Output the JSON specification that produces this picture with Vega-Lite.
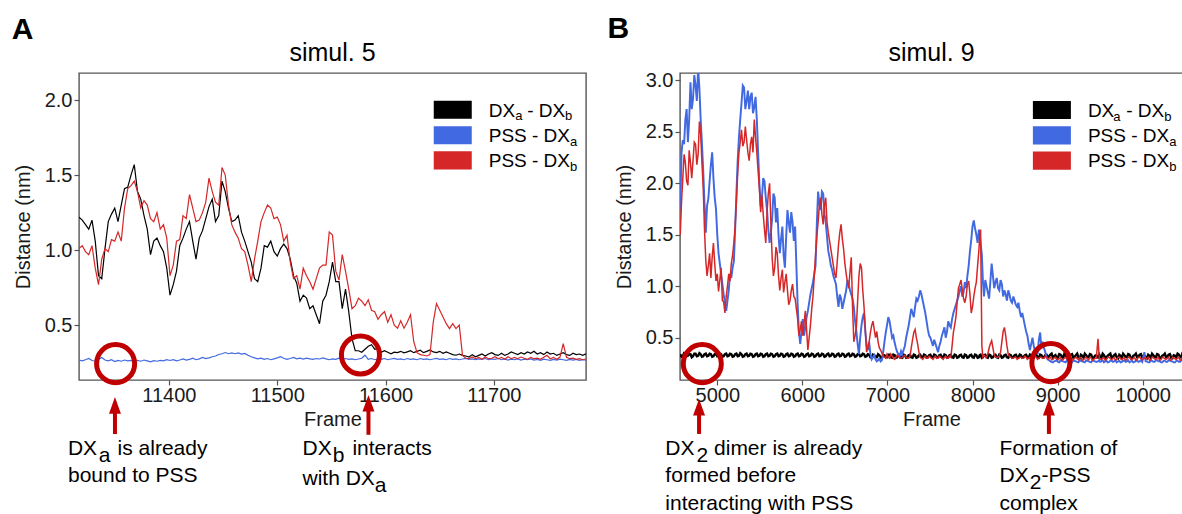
{
"$schema":"https://vega.github.io/schema/vega-lite/v6.json",
"padding":{"left":11,"top":13,"right":0,"bottom":0},
"bounds":"flush",
"spacing":94,
"config":{
 "font":"Liberation Sans",
 "view":{"stroke":"#555555","strokeWidth":1.4},
 "axis":{"grid":false,"domain":false,"tickColor":"#555555","tickSize":5,"tickWidth":1.2,"labelFontSize":20,"titleFontSize":20,"titleFontWeight":"normal","labelColor":"#1a1a1a","titleColor":"#1a1a1a","labelPadding":0},
 "axisX":{"titlePadding":4},
 "axisY":{"minExtent":36,"maxExtent":36,"titlePadding":10,"labelPadding":2}
},
"resolve":{"scale":{"x":"independent","y":"independent","color":"independent"}},
"datasets":{
"A":[
{"f":11317,"k":1.22,"p":0.268,"r":1.01},{"f":11320,"k":1.20,"p":0.262,"r":1.03},{"f":11323,"k":1.17,"p":0.27,"r":0.99},{"f":11326,"k":1.14,"p":0.278,"r":0.97},{"f":11329,"k":1.20,"p":0.265,"r":1.03},{"f":11332,"k":1.06,"p":0.26,"r":0.88},{"f":11335,"k":0.83,"p":0.272,"r":0.77},{"f":11338,"k":0.81,"p":0.285,"r":0.94},{"f":11341,"k":1.01,"p":0.268,"r":1.01},{"f":11344,"k":1.19,"p":0.262,"r":0.99},
{"f":11347,"k":1.24,"p":0.27,"r":1.07},{"f":11350,"k":1.28,"p":0.258,"r":1.06},{"f":11353,"k":1.19,"p":0.266,"r":1.12},{"f":11356,"k":1.30,"p":0.26,"r":1.06},{"f":11359,"k":1.41,"p":0.268,"r":1.28},{"f":11362,"k":1.42,"p":0.262,"r":1.41},{"f":11365,"k":1.50,"p":0.266,"r":1.43},{"f":11368,"k":1.57,"p":0.258,"r":1.46},{"f":11371,"k":1.39,"p":0.265,"r":1.39},{"f":11374,"k":1.34,"p":0.26,"r":1.28},
{"f":11377,"k":1.23,"p":0.268,"r":1.33},{"f":11380,"k":1.14,"p":0.262,"r":1.30},{"f":11383,"k":0.97,"p":0.256,"r":1.21},{"f":11386,"k":1.06,"p":0.264,"r":1.19},{"f":11389,"k":1.08,"p":0.26,"r":1.25},{"f":11392,"k":1.03,"p":0.266,"r":1.14},{"f":11395,"k":0.99,"p":0.262,"r":1.17},{"f":11398,"k":0.88,"p":0.27,"r":1.08},{"f":11401,"k":0.70,"p":0.265,"r":0.83},{"f":11404,"k":0.77,"p":0.27,"r":0.90},
{"f":11407,"k":0.86,"p":0.262,"r":1.06},{"f":11410,"k":1.03,"p":0.268,"r":1.07},{"f":11413,"k":1.08,"p":0.275,"r":1.23},{"f":11416,"k":1.14,"p":0.268,"r":1.21},{"f":11419,"k":1.19,"p":0.272,"r":1.37},{"f":11422,"k":1.06,"p":0.28,"r":1.28},{"f":11425,"k":0.94,"p":0.27,"r":1.19},{"f":11428,"k":1.08,"p":0.276,"r":1.20},{"f":11431,"k":1.13,"p":0.285,"r":1.25},{"f":11434,"k":1.21,"p":0.278,"r":1.32},
{"f":11437,"k":1.29,"p":0.282,"r":1.48},{"f":11440,"k":1.34,"p":0.29,"r":1.39},{"f":11443,"k":1.19,"p":0.295,"r":1.32},{"f":11446,"k":1.23,"p":0.305,"r":1.30},{"f":11449,"k":1.46,"p":0.31,"r":1.55},{"f":11452,"k":1.39,"p":0.318,"r":1.50},{"f":11455,"k":1.28,"p":0.31,"r":1.30},{"f":11458,"k":1.19,"p":0.315,"r":1.17},{"f":11461,"k":1.20,"p":0.31,"r":1.12},{"f":11464,"k":1.23,"p":0.316,"r":1.08},
{"f":11467,"k":1.12,"p":0.308,"r":1.01},{"f":11470,"k":1.06,"p":0.312,"r":0.99},{"f":11473,"k":0.99,"p":0.30,"r":0.90},{"f":11476,"k":0.92,"p":0.29,"r":0.79},{"f":11479,"k":0.81,"p":0.282,"r":0.94},{"f":11482,"k":0.79,"p":0.276,"r":1.06},{"f":11485,"k":0.88,"p":0.28,"r":1.19},{"f":11488,"k":1.03,"p":0.272,"r":1.25},{"f":11491,"k":1.02,"p":0.278,"r":1.30},{"f":11494,"k":1.06,"p":0.27,"r":1.28},
{"f":11497,"k":0.99,"p":0.276,"r":1.21},{"f":11500,"k":0.96,"p":0.282,"r":1.22},{"f":11503,"k":1.01,"p":0.29,"r":1.17},{"f":11506,"k":1.04,"p":0.28,"r":1.06},{"f":11509,"k":1.01,"p":0.272,"r":1.10},{"f":11512,"k":0.94,"p":0.278,"r":0.92},{"f":11515,"k":0.83,"p":0.286,"r":0.81},{"f":11518,"k":0.78,"p":0.276,"r":0.83},{"f":11521,"k":0.66,"p":0.28,"r":0.74},{"f":11524,"k":0.70,"p":0.274,"r":0.88},
{"f":11527,"k":0.68,"p":0.28,"r":0.83},{"f":11530,"k":0.61,"p":0.276,"r":0.79},{"f":11533,"k":0.63,"p":0.272,"r":0.74},{"f":11536,"k":0.57,"p":0.278,"r":0.81},{"f":11539,"k":0.51,"p":0.275,"r":0.88},{"f":11542,"k":0.66,"p":0.282,"r":0.90},{"f":11545,"k":0.70,"p":0.276,"r":0.90},{"f":11548,"k":0.79,"p":0.27,"r":1.12},{"f":11551,"k":0.92,"p":0.276,"r":1.10},{"f":11554,"k":0.79,"p":0.272,"r":0.86},
{"f":11557,"k":0.79,"p":0.28,"r":0.80},{"f":11560,"k":0.61,"p":0.274,"r":0.97},{"f":11563,"k":0.74,"p":0.278,"r":0.86},{"f":11566,"k":0.59,"p":0.272,"r":0.74},{"f":11569,"k":0.41,"p":0.276,"r":0.61},{"f":11572,"k":0.33,"p":0.27,"r":0.63},{"f":11575,"k":0.33,"p":0.275,"r":0.68},{"f":11578,"k":0.32,"p":0.28,"r":0.66},{"f":11581,"k":0.34,"p":0.30,"r":0.63},{"f":11584,"k":0.36,"p":0.272,"r":0.67},
{"f":11587,"k":0.37,"p":0.278,"r":0.60},{"f":11590,"k":0.34,"p":0.27,"r":0.59},{"f":11593,"k":0.345,"p":0.276,"r":0.54},{"f":11596,"k":0.32,"p":0.272,"r":0.57},{"f":11599,"k":0.33,"p":0.278,"r":0.59},{"f":11602,"k":0.32,"p":0.27,"r":0.52},{"f":11605,"k":0.31,"p":0.275,"r":0.57},{"f":11608,"k":0.32,"p":0.279,"r":0.50},{"f":11611,"k":0.317,"p":0.272,"r":0.48},{"f":11614,"k":0.326,"p":0.276,"r":0.53},
{"f":11617,"k":0.316,"p":0.27,"r":0.48},{"f":11620,"k":0.322,"p":0.278,"r":0.52},{"f":11623,"k":0.33,"p":0.272,"r":0.57},{"f":11626,"k":0.317,"p":0.276,"r":0.39},{"f":11629,"k":0.326,"p":0.27,"r":0.317},{"f":11632,"k":0.333,"p":0.278,"r":0.304},{"f":11635,"k":0.317,"p":0.272,"r":0.30},{"f":11638,"k":0.326,"p":0.276,"r":0.295},{"f":11641,"k":0.335,"p":0.27,"r":0.304},{"f":11644,"k":0.322,"p":0.275,"r":0.52},
{"f":11647,"k":0.317,"p":0.279,"r":0.644},{"f":11650,"k":0.326,"p":0.272,"r":0.60},{"f":11653,"k":0.313,"p":0.276,"r":0.555},{"f":11656,"k":0.322,"p":0.27,"r":0.51},{"f":11659,"k":0.313,"p":0.278,"r":0.477},{"f":11662,"k":0.304,"p":0.272,"r":0.51},{"f":11665,"k":0.30,"p":0.276,"r":0.477},{"f":11668,"k":0.308,"p":0.27,"r":0.50},{"f":11671,"k":0.299,"p":0.275,"r":0.299},{"f":11674,"k":0.295,"p":0.279,"r":0.28},
{"f":11677,"k":0.288,"p":0.272,"r":0.277},{"f":11680,"k":0.304,"p":0.276,"r":0.288},{"f":11683,"k":0.29,"p":0.27,"r":0.277},{"f":11686,"k":0.299,"p":0.275,"r":0.286},{"f":11689,"k":0.308,"p":0.272,"r":0.273},{"f":11692,"k":0.295,"p":0.278,"r":0.288},{"f":11695,"k":0.308,"p":0.27,"r":0.277},{"f":11698,"k":0.317,"p":0.276,"r":0.28},{"f":11701,"k":0.304,"p":0.272,"r":0.29},{"f":11704,"k":0.299,"p":0.278,"r":0.277},
{"f":11707,"k":0.313,"p":0.27,"r":0.286},{"f":11710,"k":0.299,"p":0.275,"r":0.273},{"f":11713,"k":0.308,"p":0.268,"r":0.29},{"f":11716,"k":0.322,"p":0.274,"r":0.277},{"f":11719,"k":0.313,"p":0.27,"r":0.286},{"f":11722,"k":0.304,"p":0.276,"r":0.277},{"f":11725,"k":0.317,"p":0.268,"r":0.288},{"f":11728,"k":0.308,"p":0.274,"r":0.28},{"f":11731,"k":0.322,"p":0.27,"r":0.273},{"f":11734,"k":0.313,"p":0.276,"r":0.286},
{"f":11737,"k":0.326,"p":0.268,"r":0.277},{"f":11740,"k":0.308,"p":0.272,"r":0.28},{"f":11743,"k":0.317,"p":0.266,"r":0.273},{"f":11746,"k":0.304,"p":0.274,"r":0.286},{"f":11749,"k":0.322,"p":0.27,"r":0.299},{"f":11752,"k":0.308,"p":0.266,"r":0.277},{"f":11755,"k":0.313,"p":0.272,"r":0.286},{"f":11758,"k":0.299,"p":0.268,"r":0.273},{"f":11761,"k":0.308,"p":0.274,"r":0.288},{"f":11764,"k":0.317,"p":0.27,"r":0.377},
{"f":11767,"k":0.304,"p":0.266,"r":0.286},{"f":11770,"k":0.299,"p":0.272,"r":0.277},{"f":11773,"k":0.313,"p":0.268,"r":0.28},{"f":11776,"k":0.304,"p":0.272,"r":0.273},{"f":11779,"k":0.308,"p":0.266,"r":0.277},{"f":11782,"k":0.299,"p":0.27,"r":0.27},{"f":11785,"k":0.31,"p":0.268,"r":0.275}
],
"B":[
{"f":4565,"k":0.34,"p":1.75,"r":1.50},{"f":4595,"k":0.32,"p":2.42,"r":2.05},{"f":4625,"k":0.345,"p":2.62,"r":2.20},{"f":4655,"k":0.325,"p":2.40,"r":1.98},{"f":4685,"k":0.34,"p":2.98,"r":2.20},{"f":4715,"k":0.32,"p":2.82,"r":2.22},{"f":4745,"k":0.345,"p":2.95,"r":2.38},{"f":4775,"k":0.325,"p":3.12,"r":2.28},{"f":4805,"k":0.34,"p":2.62,"r":2.48},{"f":4835,"k":0.32,"p":2.12,"r":1.95},
{"f":4865,"k":0.345,"p":1.52,"r":1.25},{"f":4895,"k":0.325,"p":1.85,"r":1.20},{"f":4925,"k":0.34,"p":2.18,"r":1.08},{"f":4955,"k":0.32,"p":2.05,"r":1.42},{"f":4985,"k":0.345,"p":1.75,"r":1.05},{"f":5015,"k":0.325,"p":1.32,"r":0.95},{"f":5045,"k":0.34,"p":1.12,"r":1.18},{"f":5075,"k":0.32,"p":0.92,"r":0.85},{"f":5105,"k":0.345,"p":0.76,"r":0.90},{"f":5135,"k":0.325,"p":0.96,"r":1.12},
{"f":5165,"k":0.34,"p":1.08,"r":1.22},{"f":5195,"k":0.32,"p":1.24,"r":1.42},{"f":5225,"k":0.345,"p":1.90,"r":1.82},{"f":5255,"k":0.325,"p":2.45,"r":2.30},{"f":5285,"k":0.34,"p":2.78,"r":2.52},{"f":5315,"k":0.32,"p":2.93,"r":2.40},{"f":5345,"k":0.345,"p":2.80,"r":2.42},{"f":5375,"k":0.325,"p":2.72,"r":2.22},{"f":5405,"k":0.34,"p":2.88,"r":2.45},{"f":5435,"k":0.32,"p":2.74,"r":2.62},
{"f":5465,"k":0.345,"p":2.62,"r":2.30},{"f":5495,"k":0.325,"p":2.00,"r":1.95},{"f":5525,"k":0.34,"p":1.86,"r":1.88},{"f":5555,"k":0.32,"p":2.02,"r":1.55},{"f":5585,"k":0.345,"p":1.74,"r":1.72},{"f":5615,"k":0.325,"p":1.42,"r":2.00},{"f":5645,"k":0.34,"p":1.66,"r":1.28},{"f":5675,"k":0.32,"p":1.86,"r":1.18},{"f":5705,"k":0.345,"p":1.76,"r":1.32},{"f":5735,"k":0.325,"p":1.32,"r":0.96},
{"f":5765,"k":0.34,"p":1.58,"r":1.16},{"f":5795,"k":0.32,"p":1.18,"r":1.04},{"f":5825,"k":0.345,"p":1.74,"r":0.96},{"f":5855,"k":0.325,"p":1.52,"r":0.86},{"f":5885,"k":0.34,"p":1.62,"r":1.02},{"f":5915,"k":0.32,"p":1.58,"r":0.88},{"f":5945,"k":0.345,"p":0.82,"r":0.68},{"f":5975,"k":0.325,"p":0.44,"r":0.58},{"f":6005,"k":0.34,"p":0.68,"r":0.52},{"f":6035,"k":0.32,"p":0.60,"r":0.76},
{"f":6065,"k":0.345,"p":0.76,"r":0.38},{"f":6095,"k":0.325,"p":0.92,"r":0.62},{"f":6125,"k":0.34,"p":1.04,"r":0.90},{"f":6155,"k":0.32,"p":1.20,"r":1.30},{"f":6185,"k":0.345,"p":1.92,"r":1.62},{"f":6215,"k":0.325,"p":1.74,"r":1.86},{"f":6245,"k":0.34,"p":1.90,"r":1.60},{"f":6275,"k":0.32,"p":1.62,"r":1.86},{"f":6305,"k":0.345,"p":1.34,"r":1.52},{"f":6335,"k":0.325,"p":1.20,"r":1.36},
{"f":6365,"k":0.34,"p":1.10,"r":1.20},{"f":6395,"k":0.32,"p":1.02,"r":1.08},{"f":6425,"k":0.345,"p":0.80,"r":1.40},{"f":6455,"k":0.325,"p":0.88,"r":1.60},{"f":6485,"k":0.34,"p":0.84,"r":1.36},{"f":6515,"k":0.32,"p":0.96,"r":1.12},{"f":6545,"k":0.345,"p":1.02,"r":0.98},{"f":6575,"k":0.325,"p":0.92,"r":1.28},{"f":6605,"k":0.34,"p":0.80,"r":0.46},{"f":6635,"k":0.32,"p":0.56,"r":0.60},
{"f":6665,"k":0.345,"p":0.34,"r":1.10},{"f":6695,"k":0.325,"p":0.62,"r":1.18},{"f":6725,"k":0.34,"p":0.74,"r":0.80},{"f":6755,"k":0.32,"p":0.42,"r":0.36},{"f":6785,"k":0.335,"p":0.46,"r":0.46},{"f":6815,"k":0.305,"p":0.29,"r":0.62},{"f":6845,"k":0.33,"p":0.33,"r":0.58},{"f":6875,"k":0.31,"p":0.27,"r":0.56},{"f":6905,"k":0.33,"p":0.30,"r":0.40},{"f":6935,"k":0.305,"p":0.28,"r":0.35},
{"f":6965,"k":0.33,"p":0.46,"r":0.31},{"f":6995,"k":0.31,"p":0.62,"r":0.34},{"f":7025,"k":0.335,"p":0.66,"r":0.30},{"f":7055,"k":0.305,"p":0.50,"r":0.32},{"f":7085,"k":0.33,"p":0.45,"r":0.29},{"f":7115,"k":0.31,"p":0.36,"r":0.33},{"f":7145,"k":0.335,"p":0.32,"r":0.30},{"f":7175,"k":0.305,"p":0.34,"r":0.31},{"f":7205,"k":0.33,"p":0.42,"r":0.33},{"f":7235,"k":0.31,"p":0.56,"r":0.30},
{"f":7265,"k":0.335,"p":0.70,"r":0.32},{"f":7295,"k":0.305,"p":0.74,"r":0.48},{"f":7325,"k":0.33,"p":0.80,"r":0.58},{"f":7355,"k":0.31,"p":0.86,"r":0.44},{"f":7385,"k":0.335,"p":0.96,"r":0.31},{"f":7415,"k":0.305,"p":0.86,"r":0.29},{"f":7445,"k":0.33,"p":0.74,"r":0.32},{"f":7475,"k":0.31,"p":0.58,"r":0.30},{"f":7505,"k":0.335,"p":0.50,"r":0.31},{"f":7535,"k":0.305,"p":0.42,"r":0.29},
{"f":7565,"k":0.33,"p":0.44,"r":0.32},{"f":7595,"k":0.31,"p":0.36,"r":0.30},{"f":7625,"k":0.335,"p":0.46,"r":0.31},{"f":7655,"k":0.305,"p":0.56,"r":0.29},{"f":7685,"k":0.33,"p":0.50,"r":0.32},{"f":7715,"k":0.31,"p":0.66,"r":0.30},{"f":7745,"k":0.335,"p":0.60,"r":0.31},{"f":7775,"k":0.305,"p":0.74,"r":0.55},{"f":7805,"k":0.33,"p":0.82,"r":0.70},{"f":7835,"k":0.31,"p":0.90,"r":0.98},
{"f":7865,"k":0.335,"p":1.00,"r":1.06},{"f":7895,"k":0.305,"p":0.94,"r":0.88},{"f":7925,"k":0.33,"p":0.98,"r":0.90},{"f":7955,"k":0.31,"p":1.20,"r":1.05},{"f":7985,"k":0.335,"p":1.45,"r":0.74},{"f":8015,"k":0.305,"p":1.64,"r":0.90},{"f":8045,"k":0.33,"p":1.50,"r":1.04},{"f":8075,"k":0.31,"p":1.55,"r":1.35},{"f":8095,"k":0.335,"p":1.42,"r":1.55},{"f":8110,"k":0.305,"p":1.30,"r":0.42},
{"f":8135,"k":0.33,"p":0.90,"r":0.33},{"f":8165,"k":0.31,"p":1.00,"r":0.31},{"f":8195,"k":0.335,"p":0.88,"r":0.40},{"f":8225,"k":0.305,"p":1.22,"r":0.47},{"f":8255,"k":0.33,"p":0.98,"r":0.33},{"f":8285,"k":0.31,"p":1.08,"r":0.31},{"f":8315,"k":0.335,"p":0.96,"r":0.32},{"f":8345,"k":0.305,"p":1.02,"r":0.46},{"f":8375,"k":0.33,"p":0.96,"r":0.60},{"f":8405,"k":0.31,"p":0.86,"r":0.42},
{"f":8435,"k":0.335,"p":0.92,"r":0.32},{"f":8465,"k":0.305,"p":0.84,"r":0.30},{"f":8495,"k":0.33,"p":0.86,"r":0.31},{"f":8525,"k":0.31,"p":0.80,"r":0.29},{"f":8555,"k":0.335,"p":0.76,"r":0.31},{"f":8585,"k":0.305,"p":0.74,"r":0.30},{"f":8615,"k":0.33,"p":0.62,"r":0.32},{"f":8645,"k":0.31,"p":0.52,"r":0.29},{"f":8675,"k":0.335,"p":0.38,"r":0.31},{"f":8705,"k":0.305,"p":0.50,"r":0.30},
{"f":8735,"k":0.33,"p":0.36,"r":0.32},{"f":8765,"k":0.31,"p":0.34,"r":0.29},{"f":8795,"k":0.335,"p":0.55,"r":0.31},{"f":8825,"k":0.305,"p":0.46,"r":0.30},{"f":8855,"k":0.33,"p":0.36,"r":0.32},{"f":8885,"k":0.31,"p":0.29,"r":0.29},{"f":8915,"k":0.335,"p":0.27,"r":0.31},{"f":8945,"k":0.305,"p":0.26,"r":0.29},{"f":8975,"k":0.33,"p":0.275,"r":0.31},{"f":9005,"k":0.31,"p":0.265,"r":0.285},
{"f":9035,"k":0.335,"p":0.28,"r":0.305},{"f":9065,"k":0.305,"p":0.27,"r":0.29},{"f":9095,"k":0.33,"p":0.26,"r":0.31},{"f":9125,"k":0.31,"p":0.275,"r":0.285},{"f":9155,"k":0.335,"p":0.265,"r":0.305},{"f":9185,"k":0.305,"p":0.28,"r":0.29},{"f":9215,"k":0.33,"p":0.27,"r":0.31},{"f":9245,"k":0.31,"p":0.26,"r":0.285},{"f":9275,"k":0.335,"p":0.275,"r":0.305},{"f":9305,"k":0.305,"p":0.265,"r":0.29},
{"f":9335,"k":0.33,"p":0.28,"r":0.31},{"f":9365,"k":0.31,"p":0.27,"r":0.285},{"f":9395,"k":0.335,"p":0.26,"r":0.305},{"f":9425,"k":0.305,"p":0.275,"r":0.29},{"f":9455,"k":0.33,"p":0.265,"r":0.30},{"f":9475,"k":0.31,"p":0.27,"r":0.49},{"f":9490,"k":0.335,"p":0.28,"r":0.30},{"f":9515,"k":0.305,"p":0.27,"r":0.285},{"f":9545,"k":0.33,"p":0.26,"r":0.305},{"f":9575,"k":0.31,"p":0.275,"r":0.29},
{"f":9605,"k":0.335,"p":0.265,"r":0.31},{"f":9635,"k":0.305,"p":0.28,"r":0.285},{"f":9665,"k":0.33,"p":0.27,"r":0.305},{"f":9695,"k":0.31,"p":0.26,"r":0.29},{"f":9725,"k":0.335,"p":0.275,"r":0.31},{"f":9755,"k":0.305,"p":0.265,"r":0.285},{"f":9785,"k":0.33,"p":0.28,"r":0.305},{"f":9815,"k":0.31,"p":0.27,"r":0.29},{"f":9845,"k":0.335,"p":0.26,"r":0.31},{"f":9875,"k":0.305,"p":0.275,"r":0.285},
{"f":9905,"k":0.33,"p":0.265,"r":0.305},{"f":9935,"k":0.31,"p":0.28,"r":0.29},{"f":9965,"k":0.335,"p":0.27,"r":0.31},{"f":9995,"k":0.305,"p":0.265,"r":0.285},{"f":10020,"k":0.33,"p":0.36,"r":0.305},{"f":10035,"k":0.31,"p":0.27,"r":0.29},{"f":10065,"k":0.335,"p":0.26,"r":0.31},{"f":10095,"k":0.305,"p":0.275,"r":0.285},{"f":10125,"k":0.33,"p":0.265,"r":0.305},{"f":10155,"k":0.31,"p":0.28,"r":0.29},
{"f":10185,"k":0.335,"p":0.27,"r":0.31},{"f":10215,"k":0.305,"p":0.26,"r":0.285},{"f":10245,"k":0.33,"p":0.275,"r":0.305},{"f":10275,"k":0.31,"p":0.265,"r":0.29},{"f":10305,"k":0.335,"p":0.28,"r":0.31},{"f":10335,"k":0.305,"p":0.27,"r":0.285},{"f":10365,"k":0.33,"p":0.26,"r":0.305},{"f":10395,"k":0.31,"p":0.275,"r":0.29},{"f":10425,"k":0.335,"p":0.265,"r":0.31},{"f":10455,"k":0.305,"p":0.28,"r":0.285},
{"f":10475,"k":0.33,"p":0.27,"r":0.30},
{"f":4580,"k":0.315,"p":2.30,"r":1.82},{"f":4610,"k":0.35,"p":2.38,"r":2.28},{"f":4640,"k":0.32,"p":2.72,"r":2.02},{"f":4670,"k":0.34,"p":2.62,"r":2.32},{"f":4700,"k":0.31,"p":2.72,"r":2.05},{"f":4730,"k":0.345,"p":3.05,"r":2.40},{"f":4760,"k":0.32,"p":2.80,"r":2.18},{"f":4790,"k":0.35,"p":2.92,"r":2.60},{"f":4820,"k":0.315,"p":2.38,"r":2.20},{"f":4850,"k":0.34,"p":1.80,"r":1.55},
{"f":4880,"k":0.32,"p":1.78,"r":1.10},{"f":4910,"k":0.345,"p":2.02,"r":1.32},{"f":4940,"k":0.315,"p":2.30,"r":1.28},{"f":4970,"k":0.34,"p":1.86,"r":1.22},{"f":5000,"k":0.32,"p":1.50,"r":1.12},{"f":5030,"k":0.345,"p":1.22,"r":1.06},{"f":5060,"k":0.315,"p":1.02,"r":0.86},{"f":5090,"k":0.34,"p":0.84,"r":0.74},{"f":5120,"k":0.32,"p":0.86,"r":1.00},{"f":5150,"k":0.345,"p":1.12,"r":1.05},
{"f":5180,"k":0.315,"p":1.18,"r":1.30},{"f":5210,"k":0.34,"p":1.55,"r":1.58},{"f":5240,"k":0.32,"p":2.22,"r":2.10},{"f":5270,"k":0.35,"p":2.62,"r":2.40},{"f":5300,"k":0.315,"p":2.95,"r":2.36},{"f":5330,"k":0.34,"p":2.72,"r":2.55},{"f":5360,"k":0.32,"p":2.90,"r":2.30},{"f":5390,"k":0.345,"p":2.84,"r":2.38},{"f":5420,"k":0.315,"p":2.68,"r":2.30},{"f":5450,"k":0.34,"p":2.84,"r":2.45},
{"f":5480,"k":0.32,"p":2.30,"r":2.12},{"f":5510,"k":0.345,"p":1.78,"r":1.72},{"f":5540,"k":0.315,"p":2.05,"r":1.70},{"f":5570,"k":0.34,"p":1.86,"r":1.42},{"f":5600,"k":0.32,"p":1.55,"r":1.90},{"f":5630,"k":0.345,"p":1.52,"r":1.62},{"f":5660,"k":0.315,"p":1.90,"r":1.10},{"f":5690,"k":0.34,"p":1.62,"r":1.38},{"f":5720,"k":0.32,"p":1.50,"r":1.10},{"f":5750,"k":0.345,"p":1.46,"r":1.08},
{"f":5780,"k":0.315,"p":1.30,"r":0.94},{"f":5810,"k":0.34,"p":1.48,"r":1.12},{"f":5840,"k":0.32,"p":1.62,"r":0.82},{"f":5870,"k":0.345,"p":1.72,"r":0.96},{"f":5900,"k":0.315,"p":1.44,"r":0.90},{"f":5930,"k":0.34,"p":1.20,"r":0.78},{"f":5960,"k":0.32,"p":0.55,"r":0.52},{"f":5990,"k":0.345,"p":0.56,"r":0.66},{"f":6020,"k":0.315,"p":0.52,"r":0.64},{"f":6050,"k":0.34,"p":0.70,"r":0.58},
{"f":6080,"k":0.32,"p":0.84,"r":0.50},{"f":6110,"k":0.345,"p":0.98,"r":0.78},{"f":6140,"k":0.315,"p":1.12,"r":1.10},{"f":6170,"k":0.34,"p":1.60,"r":1.48},{"f":6200,"k":0.32,"p":1.80,"r":1.78},{"f":6230,"k":0.345,"p":1.92,"r":1.70},{"f":6260,"k":0.315,"p":1.70,"r":1.78},{"f":6290,"k":0.34,"p":1.48,"r":1.62},{"f":6320,"k":0.32,"p":1.28,"r":1.44},{"f":6350,"k":0.345,"p":1.16,"r":1.28},
{"f":6380,"k":0.315,"p":1.06,"r":1.12},{"f":6410,"k":0.34,"p":0.90,"r":1.24},{"f":6440,"k":0.32,"p":0.92,"r":1.52},{"f":6470,"k":0.345,"p":0.78,"r":1.46},{"f":6500,"k":0.315,"p":0.90,"r":1.22},{"f":6530,"k":0.34,"p":1.06,"r":1.04},{"f":6560,"k":0.32,"p":0.96,"r":1.14},{"f":6590,"k":0.345,"p":0.88,"r":0.80},{"f":6620,"k":0.315,"p":0.66,"r":0.52},{"f":6650,"k":0.34,"p":0.44,"r":0.86},
{"f":6680,"k":0.32,"p":0.50,"r":1.22},{"f":6710,"k":0.345,"p":0.70,"r":0.96},{"f":6740,"k":0.315,"p":0.56,"r":0.58},{"f":6770,"k":0.34,"p":0.38,"r":0.40},{"f":6800,"k":0.31,"p":0.34,"r":0.55},{"f":6830,"k":0.335,"p":0.31,"r":0.66},{"f":6860,"k":0.31,"p":0.29,"r":0.50},{"f":6890,"k":0.34,"p":0.28,"r":0.46},{"f":6920,"k":0.305,"p":0.27,"r":0.38},{"f":6950,"k":0.33,"p":0.36,"r":0.32},
{"f":6980,"k":0.31,"p":0.55,"r":0.30},{"f":7010,"k":0.335,"p":0.70,"r":0.31},{"f":7040,"k":0.31,"p":0.58,"r":0.34},{"f":7070,"k":0.335,"p":0.52,"r":0.30},{"f":7100,"k":0.305,"p":0.40,"r":0.31},{"f":7130,"k":0.33,"p":0.34,"r":0.32},{"f":7160,"k":0.31,"p":0.37,"r":0.30},{"f":7190,"k":0.335,"p":0.38,"r":0.32},{"f":7220,"k":0.305,"p":0.50,"r":0.31},{"f":7250,"k":0.33,"p":0.62,"r":0.30},
{"f":7280,"k":0.31,"p":0.78,"r":0.40},{"f":7310,"k":0.335,"p":0.70,"r":0.55},{"f":7340,"k":0.305,"p":0.88,"r":0.50},{"f":7370,"k":0.33,"p":0.90,"r":0.36},{"f":7400,"k":0.31,"p":0.92,"r":0.30},{"f":7430,"k":0.335,"p":0.80,"r":0.31},{"f":7460,"k":0.305,"p":0.66,"r":0.30},{"f":7490,"k":0.33,"p":0.52,"r":0.32},{"f":7520,"k":0.31,"p":0.46,"r":0.30},{"f":7550,"k":0.335,"p":0.48,"r":0.31},
{"f":7580,"k":0.305,"p":0.40,"r":0.30},{"f":7610,"k":0.33,"p":0.42,"r":0.32},{"f":7640,"k":0.31,"p":0.52,"r":0.30},{"f":7670,"k":0.335,"p":0.60,"r":0.31},{"f":7700,"k":0.305,"p":0.56,"r":0.30},{"f":7730,"k":0.33,"p":0.62,"r":0.32},{"f":7760,"k":0.31,"p":0.68,"r":0.42},{"f":7790,"k":0.335,"p":0.78,"r":0.62},{"f":7820,"k":0.305,"p":0.86,"r":0.85},{"f":7850,"k":0.33,"p":0.96,"r":1.02},
{"f":7880,"k":0.31,"p":0.90,"r":0.96},{"f":7910,"k":0.335,"p":1.04,"r":0.84},{"f":7940,"k":0.305,"p":1.10,"r":1.02},{"f":7970,"k":0.33,"p":1.34,"r":0.92},{"f":8000,"k":0.31,"p":1.58,"r":0.80},{"f":8030,"k":0.335,"p":1.56,"r":0.98},{"f":8060,"k":0.305,"p":1.42,"r":1.20},{"f":8085,"k":0.33,"p":1.50,"r":1.48},{"f":8122,"k":0.31,"p":1.05,"r":0.31},{"f":8150,"k":0.335,"p":1.06,"r":0.32},
{"f":8180,"k":0.305,"p":0.94,"r":0.34},{"f":8210,"k":0.33,"p":1.05,"r":0.44},{"f":8240,"k":0.31,"p":1.10,"r":0.40},{"f":8270,"k":0.335,"p":1.04,"r":0.31},{"f":8300,"k":0.305,"p":0.98,"r":0.31},{"f":8330,"k":0.33,"p":1.06,"r":0.36},{"f":8360,"k":0.31,"p":0.90,"r":0.56},{"f":8390,"k":0.335,"p":0.92,"r":0.52},{"f":8420,"k":0.305,"p":0.96,"r":0.34},{"f":8450,"k":0.33,"p":0.86,"r":0.31},
{"f":8480,"k":0.31,"p":0.90,"r":0.30},{"f":8510,"k":0.335,"p":0.82,"r":0.31},{"f":8540,"k":0.305,"p":0.84,"r":0.30},{"f":8570,"k":0.33,"p":0.70,"r":0.31},{"f":8600,"k":0.31,"p":0.68,"r":0.30},{"f":8630,"k":0.335,"p":0.56,"r":0.31},{"f":8660,"k":0.305,"p":0.44,"r":0.30},{"f":8690,"k":0.33,"p":0.44,"r":0.31},{"f":8720,"k":0.31,"p":0.42,"r":0.30},{"f":8750,"k":0.335,"p":0.40,"r":0.31},
{"f":8780,"k":0.305,"p":0.48,"r":0.30},{"f":8810,"k":0.33,"p":0.40,"r":0.31},{"f":8840,"k":0.31,"p":0.40,"r":0.30},{"f":8870,"k":0.335,"p":0.31,"r":0.31},
{"f":8900,"k":0.32,"p":0.28,"r":0.30},{"f":8930,"k":0.345,"p":0.265,"r":0.285},{"f":8960,"k":0.32,"p":0.27,"r":0.305},{"f":8990,"k":0.30,"p":0.28,"r":0.295},{"f":9020,"k":0.34,"p":0.26,"r":0.30},{"f":9050,"k":0.315,"p":0.275,"r":0.28},{"f":9080,"k":0.345,"p":0.265,"r":0.30},{"f":9110,"k":0.30,"p":0.28,"r":0.295},{"f":9140,"k":0.325,"p":0.27,"r":0.31},{"f":9170,"k":0.34,"p":0.26,"r":0.28},
{"f":9200,"k":0.315,"p":0.275,"r":0.30},{"f":9230,"k":0.345,"p":0.265,"r":0.295},{"f":9260,"k":0.30,"p":0.28,"r":0.31},{"f":9290,"k":0.325,"p":0.27,"r":0.28},{"f":9320,"k":0.345,"p":0.26,"r":0.30},{"f":9350,"k":0.315,"p":0.275,"r":0.295},{"f":9380,"k":0.34,"p":0.265,"r":0.31},{"f":9410,"k":0.30,"p":0.28,"r":0.28},{"f":9440,"k":0.325,"p":0.27,"r":0.30},{"f":9500,"k":0.315,"p":0.265,"r":0.295},
{"f":9530,"k":0.345,"p":0.28,"r":0.30},{"f":9560,"k":0.30,"p":0.27,"r":0.28},{"f":9590,"k":0.325,"p":0.26,"r":0.31},{"f":9620,"k":0.345,"p":0.275,"r":0.295},{"f":9650,"k":0.315,"p":0.265,"r":0.30},{"f":9680,"k":0.34,"p":0.28,"r":0.28},{"f":9710,"k":0.30,"p":0.27,"r":0.31},{"f":9740,"k":0.325,"p":0.26,"r":0.295},{"f":9770,"k":0.345,"p":0.275,"r":0.30},{"f":9800,"k":0.315,"p":0.265,"r":0.28},
{"f":9830,"k":0.34,"p":0.28,"r":0.31},{"f":9860,"k":0.30,"p":0.27,"r":0.295},{"f":9890,"k":0.325,"p":0.26,"r":0.30},{"f":9920,"k":0.345,"p":0.275,"r":0.28},{"f":9950,"k":0.315,"p":0.265,"r":0.31},{"f":9980,"k":0.34,"p":0.28,"r":0.295},{"f":10050,"k":0.30,"p":0.27,"r":0.30},{"f":10080,"k":0.325,"p":0.26,"r":0.28},{"f":10110,"k":0.345,"p":0.275,"r":0.31},{"f":10140,"k":0.315,"p":0.265,"r":0.295},
{"f":10170,"k":0.34,"p":0.28,"r":0.30},{"f":10200,"k":0.30,"p":0.27,"r":0.28},{"f":10230,"k":0.325,"p":0.26,"r":0.31},{"f":10260,"k":0.345,"p":0.275,"r":0.295},{"f":10290,"k":0.315,"p":0.265,"r":0.30},{"f":10320,"k":0.34,"p":0.28,"r":0.28},{"f":10350,"k":0.30,"p":0.27,"r":0.31},{"f":10380,"k":0.325,"p":0.26,"r":0.295},{"f":10410,"k":0.345,"p":0.275,"r":0.30},{"f":10440,"k":0.315,"p":0.265,"r":0.28},
{"f":10465,"k":0.34,"p":0.28,"r":0.31}
]
},
"hconcat":[
{
 "width":507,"height":307,
 "encoding":{
  "x":{"field":"f","type":"quantitative","scale":{"domain":[11317,11785],"nice":false,"zero":false},"axis":{"values":[11400,11500,11600,11700],"format":"d","title":"Frame"}},
  "y":{"field":"d","type":"quantitative","scale":{"domain":[0.135,2.18],"nice":false,"zero":false},"axis":{"values":[0.5,1,1.5,2],"format":".1f","title":"Distance (nm)"}}
 },
 "layer":[
  {"data":{"name":"A"},"transform":[{"fold":["k","p","r"],"as":["s","d"]}],
   "mark":{"type":"line","clip":true,"strokeWidth":1.2},
   "encoding":{"color":{"field":"s","type":"nominal","scale":{"domain":["k","p","r"],"range":["#000000","#4169e1","#d62728"]},"legend":null}}},
  {"data":{"values":[{"f":11662,"d":1.935,"s":"k"},{"f":11662,"d":1.766,"s":"p"},{"f":11662,"d":1.598,"s":"r"}]},
   "mark":{"type":"point","shape":"M-2,-0.95H2V0.95H-2Z","size":361,"filled":true,"opacity":1,"strokeWidth":0},
   "encoding":{"color":{"field":"s","type":"nominal","legend":null}}},
  {"data":{"values":[{"f":11695.2,"d":1.890,"t":"DX"},{"f":11730.7,"d":1.890,"t":"- DX"},{"f":11695.2,"d":1.722,"t":"PSS - DX"},{"f":11695.2,"d":1.554,"t":"PSS - DX"}]},
   "mark":{"type":"text","align":"left","baseline":"alphabetic","fontSize":19,"color":"#000000"},
   "encoding":{"text":{"field":"t"}}},
  {"data":{"values":[{"f":11719.6,"d":1.864,"t":"a"},{"f":11765.7,"d":1.864,"t":"b"},{"f":11770.2,"d":1.695,"t":"a"},{"f":11770.2,"d":1.527,"t":"b"}]},
   "mark":{"type":"text","align":"left","baseline":"alphabetic","fontSize":13,"color":"#000000"},
   "encoding":{"text":{"field":"t"}}},
  {"data":{"values":[{"f":11350.8,"d":0.244},{"f":11576.8,"d":0.302}]},
   "mark":{"type":"point","shape":"circle","size":1450,"filled":false,"strokeWidth":5,"color":"#c00000","opacity":1}},
  {"data":{"values":[{"f":11350.2,"d":-0.045,"d2":-0.225},{"f":11584.2,"d":-0.032,"d2":-0.23}]},
   "mark":{"type":"rule","strokeWidth":4,"color":"#c00000"},
   "encoding":{"y2":{"field":"d2"}}},
  {"data":{"values":[{"f":11350.2,"d":-0.034},{"f":11584.2,"d":-0.02}]},
   "mark":{"type":"point","shape":"M0,-1L0.72,1L-0.72,1Z","size":276,"filled":true,"color":"#c00000","opacity":1,"strokeWidth":0}},
  {"data":{"values":[
    {"f":11306.8,"d":-0.365,"t":"DX"},{"f":11335.2,"d":-0.412,"t":"a"},{"f":11352.6,"d":-0.365,"t":"is already"},{"f":11306.8,"d":-0.545,"t":"bound to PSS"},
    {"f":11523.3,"d":-0.365,"t":"DX"},{"f":11551.3,"d":-0.412,"t":"b"},{"f":11569.4,"d":-0.365,"t":"interacts"},{"f":11523.3,"d":-0.565,"t":"with DX"},{"f":11590,"d":-0.612,"t":"a"}]},
   "mark":{"type":"text","align":"left","baseline":"alphabetic","fontSize":21,"color":"#000000"},
   "encoding":{"text":{"field":"t"}}},
  {"data":{"values":[{"f":11551,"d":2.262,"t":"simul. 5"}]},
   "mark":{"type":"text","align":"center","baseline":"alphabetic","fontSize":25,"color":"#000000"},
   "encoding":{"text":{"field":"t"}}},
  {"data":{"values":[{"f":11265,"d":2.468,"t":"A"}]},
   "mark":{"type":"text","align":"center","baseline":"middle","fontSize":30,"fontWeight":"bold","color":"#000000"},
   "encoding":{"text":{"field":"t"}}}
 ]
},
{
 "width":503,"height":307,
 "encoding":{
  "x":{"field":"f","type":"quantitative","scale":{"domain":[4562,10474],"nice":false,"zero":false},"axis":{"values":[5000,6000,7000,8000,9000,10000],"format":"d","title":"Frame"}},
  "y":{"field":"d","type":"quantitative","scale":{"domain":[0.089,3.071],"nice":false,"zero":false},"axis":{"values":[0.5,1,1.5,2,2.5,3],"format":".1f","title":"Distance (nm)"}}
 },
 "layer":[
  {"data":{"name":"B"},"transform":[{"fold":["k","p","r"],"as":["s","d"]}],
   "mark":{"type":"line","clip":true},
   "encoding":{"color":{"field":"s","type":"nominal","scale":{"domain":["k","p","r"],"range":["#000000","#4169e1","#d62728"]},"legend":null},
     "strokeWidth":{"field":"s","type":"nominal","scale":{"domain":["k","p","r"],"range":[2.4,1.5,1.5]},"legend":null}}},
  {"data":{"values":[{"f":8933,"d":2.711,"s":"k"},{"f":8933,"d":2.465,"s":"p"},{"f":8933,"d":2.220,"s":"r"}]},
   "mark":{"type":"point","shape":"M-2,-0.95H2V0.95H-2Z","size":361,"filled":true,"opacity":1,"strokeWidth":0},
   "encoding":{"color":{"field":"s","type":"nominal","legend":null}}},
  {"data":{"values":[{"f":9356,"d":2.646,"t":"DX"},{"f":9807,"d":2.646,"t":"- DX"},{"f":9356,"d":2.400,"t":"PSS - DX"},{"f":9356,"d":2.155,"t":"PSS - DX"}]},
   "mark":{"type":"text","align":"left","baseline":"alphabetic","fontSize":19,"color":"#000000"},
   "encoding":{"text":{"field":"t"}}},
  {"data":{"values":[{"f":9654,"d":2.607,"t":"a"},{"f":10253,"d":2.607,"t":"b"},{"f":10311,"d":2.361,"t":"a"},{"f":10311,"d":2.117,"t":"b"}]},
   "mark":{"type":"text","align":"left","baseline":"alphabetic","fontSize":13,"color":"#000000"},
   "encoding":{"text":{"field":"t"}}},
  {"data":{"values":[{"f":4824,"d":0.248},{"f":8921,"d":0.258}]},
   "mark":{"type":"point","shape":"circle","size":1450,"filled":false,"strokeWidth":5,"color":"#c00000","opacity":1}},
  {"data":{"values":[{"f":4786,"d":-0.192,"d2":-0.435},{"f":8898,"d":-0.192,"d2":-0.435}]},
   "mark":{"type":"rule","strokeWidth":4,"color":"#c00000"},
   "encoding":{"y2":{"field":"d2"}}},
  {"data":{"values":[{"f":4786,"d":-0.176},{"f":8898,"d":-0.176}]},
   "mark":{"type":"point","shape":"M0,-1L0.72,1L-0.72,1Z","size":276,"filled":true,"color":"#c00000","opacity":1,"strokeWidth":0}},
  {"data":{"values":[
    {"f":4390,"d":-0.639,"t":"DX"},{"f":4755,"d":-0.707,"t":"2"},{"f":4962,"d":-0.639,"t":"dimer is already"},{"f":4390,"d":-0.906,"t":"formed before"},{"f":4390,"d":-1.173,"t":"interacting with PSS"},
    {"f":8318,"d":-0.639,"t":"Formation of"},{"f":8318,"d":-0.906,"t":"DX"},{"f":8673,"d":-0.974,"t":"2"},{"f":8810,"d":-0.906,"t":"-PSS"},{"f":8318,"d":-1.173,"t":"complex"}]},
   "mark":{"type":"text","align":"left","baseline":"alphabetic","fontSize":21,"color":"#000000"},
   "encoding":{"text":{"field":"t"}}},
  {"data":{"values":[{"f":7518,"d":3.186,"t":"simul. 9"}]},
   "mark":{"type":"text","align":"center","baseline":"alphabetic","fontSize":25,"color":"#000000"},
   "encoding":{"text":{"field":"t"}}},
  {"data":{"values":[{"f":3836,"d":3.5,"t":"B"}]},
   "mark":{"type":"text","align":"center","baseline":"middle","fontSize":30,"fontWeight":"bold","color":"#000000"},
   "encoding":{"text":{"field":"t"}}}
 ]
}
]
}
